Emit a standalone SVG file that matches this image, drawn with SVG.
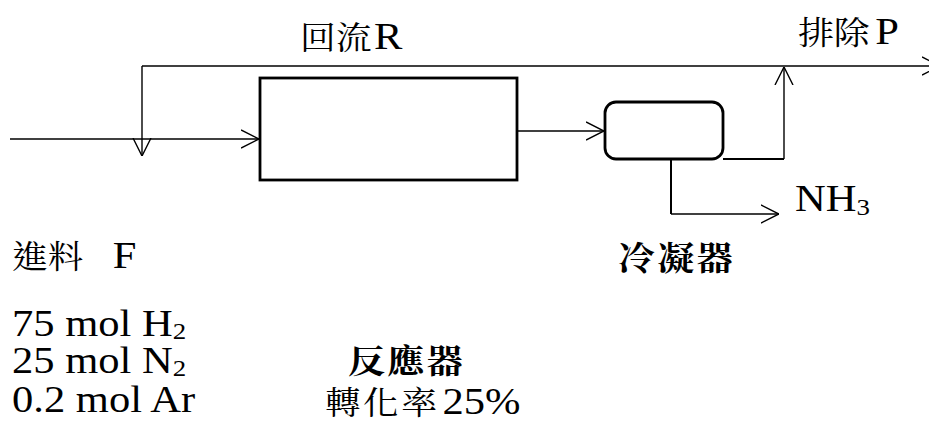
<svg xmlns="http://www.w3.org/2000/svg" width="929" height="436" viewBox="0 0 929 436">
<style>
.ln{fill:none;stroke:#000;stroke-width:1.4}
.lt{fill:none;stroke:#000;stroke-width:2}
.box{fill:#fff;stroke:#000;stroke-width:2.8}
.lat{font-family:"Liberation Serif","Times New Roman",serif;font-size:38px;fill:#000}
.sub{font-size:24px}
.cjk{font-family:"Noto Serif CJK TC","Noto Sans CJK TC",serif;font-size:32px;fill:#000}
.bold{font-weight:bold;font-size:33px;letter-spacing:2px}
</style>
<defs>
<marker id="ah" viewBox="0 0 18 20" refX="18" refY="10" markerWidth="18" markerHeight="20" markerUnits="userSpaceOnUse" orient="auto">
<path d="M0,1 L18,10 L0,19" fill="none" stroke="#000" stroke-width="1.4"/>
</marker>
</defs>
<g id="connectors">
<path class="ln" d="M10,139 L259,139" marker-end="url(#ah)"/>
<path class="ln" d="M142,66 L940,66" marker-end="url(#ah)"/>
<path class="ln" d="M142,66 L142,156" marker-end="url(#ah)"/>
<path class="ln" d="M517,131 L604,131" marker-end="url(#ah)"/>
<path class="lt" d="M723,159 L784,159"/>
<path class="ln" d="M784,159 L784,67" marker-end="url(#ah)"/>
<path class="lt" d="M671,159 L671,214"/>
<path class="ln" d="M671,214 L779,214" marker-end="url(#ah)"/>
</g>
<g id="reactor">
<rect class="box" x="260" y="78" width="257" height="102"/>
<text class="cjk bold" transform="translate(348,373) scale(1.12,1)">反應器</text>
<text transform="translate(325,414) scale(1.12,1)"><tspan class="cjk" style="letter-spacing:2px">轉化率</tspan><tspan class="lat" dx="3">25%</tspan></text>
</g>
<g id="condenser">
<rect class="box" x="605" y="102" width="118" height="57" rx="11"/>
<text class="cjk bold" transform="translate(618,270) scale(1.12,1)">冷凝器</text>
</g>
<g id="feed">
<text transform="translate(12,268) scale(1.12,1)"><tspan class="cjk">進料</tspan><tspan class="lat" x="90">F</tspan></text>
<text class="lat" transform="translate(12,336) scale(1.12,1)">75 mol H<tspan class="sub" dy="3">2</tspan></text>
<text class="lat" transform="translate(12,373) scale(1.12,1)">25 mol N<tspan class="sub" dy="3">2</tspan></text>
<text class="lat" transform="translate(12,412) scale(1.12,1)">0.2 mol Ar</text>
</g>
<g id="recycle">
<text transform="translate(300,49) scale(1.12,1)"><tspan class="cjk">回流</tspan><tspan class="lat" x="66">R</tspan></text>
</g>
<g id="purge">
<text transform="translate(798,44) scale(1.12,1)"><tspan class="cjk">排除</tspan><tspan class="lat" x="69">P</tspan></text>
</g>
<g id="product">
<text class="lat" transform="translate(795,211) scale(1.12,1)">NH<tspan class="sub" dy="4">3</tspan></text>
</g>
</svg>
